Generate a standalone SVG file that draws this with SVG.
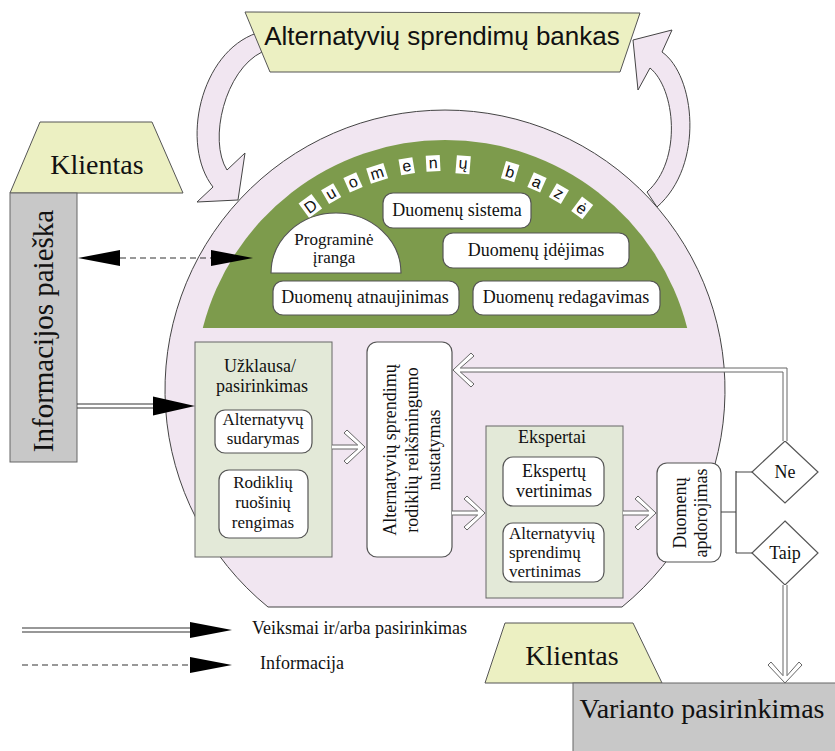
<svg xmlns="http://www.w3.org/2000/svg" width="835" height="751" viewBox="0 0 835 751">
<style>
.pink{fill:#f1e6f1;stroke:#444;stroke-width:1}
.green{fill:#7d9b4c;stroke:none}
.wbox{fill:#fff;stroke:#555;stroke-width:1.2}
.gbox{fill:#e3e9d8;stroke:#666;stroke-width:1}
.yel{fill:#ecf0c2;stroke:#555;stroke-width:1}
.gray{fill:#c8c8c8;stroke:#666;stroke-width:1}
.t{font-family:"Liberation Serif",serif;font-size:18px;fill:#111;text-anchor:middle}
.t.big{font-size:28px}
.t.sm{font-size:17px}
.s{font-family:"Liberation Sans",Arial,sans-serif;fill:#111;text-anchor:middle}
.lt{font-family:"Liberation Serif",serif;font-size:18px;fill:#111}
.lt.sm{font-size:17px}
.hollow{fill:#fff;stroke:#666;stroke-width:1}
.line{stroke:#333;stroke-width:1.2;fill:none}
.dash{stroke:#333;stroke-width:1.2;fill:none;stroke-dasharray:6 4}
.head{fill:#000}
.conn{stroke:#444;stroke-width:1.2;fill:none}
.lb{fill:#fff}
</style>
<defs>
<path id="ah" d="M-42,-8 L0,0 L-42,8 Z"/>
</defs>

<!-- curved arrows -->
<g id="curve-left">
<path class="pink" d="M257,33 C200,52 180,145 213,187 L197,202 L238,200 L245,153 L227,170 C208,140 225,70 262,52 Z"/>
</g>
<g id="curve-right">
<path class="pink" d="M633,40 L672,30 L662,52 C695,75 705,165 657,207 L647,192 C683,160 675,88 650,68 L638,90 Z"/>
</g>

<!-- banner -->
<g id="bank">
<polygon class="yel" points="245,12 640,13 620,72 270,72"/>
<text class="s" x="442" y="45" font-size="26">Alternatyvių sprendimų bankas</text>
</g>

<!-- big circle -->
<g id="circle">
<path class="pink" d="M268,607 A280 280 0 1 1 622,607 Z"/>
</g>

<!-- database -->
<g id="db">
<path class="green" d="M202.8,328 A250 250 0 0 1 687.2,328 Z"/>
<g class="s" font-size="16">
<g transform="rotate(-36.2 445 390)"><rect class="lb" x="437" y="153" width="16" height="18"/><text x="445" y="168">D</text></g>
<g transform="rotate(-30.1 445 390)"><rect class="lb" x="438" y="155" width="14" height="16"/><text x="445" y="168">u</text></g>
<g transform="rotate(-23.9 445 390)"><rect class="lb" x="438" y="155" width="14" height="16"/><text x="445" y="168">o</text></g>
<g transform="rotate(-17.4 445 390)"><rect class="lb" x="436" y="155" width="18" height="16"/><text x="445" y="168">m</text></g>
<g transform="rotate(-9.7 445 390)"><rect class="lb" x="438" y="155" width="14" height="16"/><text x="445" y="168">e</text></g>
<g transform="rotate(-3 445 390)"><rect class="lb" x="438" y="155" width="14" height="16"/><text x="445" y="168">n</text></g>
<g transform="rotate(4.6 445 390)"><rect class="lb" x="438" y="155" width="14" height="18"/><text x="445" y="168">ų</text></g>
<g transform="rotate(16.6 445 390)"><rect class="lb" x="438" y="153" width="14" height="18"/><text x="445" y="168">b</text></g>
<g transform="rotate(23.9 445 390)"><rect class="lb" x="438" y="155" width="14" height="16"/><text x="445" y="168">a</text></g>
<g transform="rotate(30.1 445 390)"><rect class="lb" x="438" y="155" width="14" height="16"/><text x="445" y="168">z</text></g>
<g transform="rotate(37 445 390)"><rect class="lb" x="438" y="153" width="14" height="18"/><text x="445" y="168">ė</text></g>
</g>
</g>

<g id="db-sistema">
<rect class="wbox" x="383" y="193" width="148" height="35" rx="10"/>
<text class="t" x="457" y="216">Duomenų sistema</text>
</g>
<g id="programine">
<path class="wbox" d="M271,273 A65 60 0 0 1 401,273 Z"/>
<text class="t sm" x="334" y="245">Programinė</text>
<text class="t sm" x="334" y="263">įranga</text>
</g>
<g id="idejimas">
<rect class="wbox" x="443" y="233" width="186" height="35" rx="10"/>
<text class="t" x="536" y="256">Duomenų įdėjimas</text>
</g>
<g id="atnaujinimas">
<rect class="wbox" x="273" y="281" width="186" height="34" rx="10"/>
<text class="t" x="365" y="303">Duomenų atnaujinimas</text>
</g>
<g id="redagavimas">
<rect class="wbox" x="473" y="281" width="187" height="34" rx="10"/>
<text class="t" x="566" y="303">Duomenų redagavimas</text>
</g>

<!-- left client -->
<g id="klientas-1">
<polygon class="yel" points="40,122 152,122 183,193 10,193"/>
<text class="t big" x="97" y="174">Klientas</text>
</g>
<g id="informacijos">
<rect class="gray" x="10" y="193" width="67" height="269"/>
<text class="t" style="font-size:29px" transform="rotate(-90 53 331)" x="53" y="331">Informacijos paieška</text>
</g>

<!-- Uzklausa -->
<g id="uzklausa">
<rect class="gbox" x="195" y="342" width="137" height="215"/>
<text class="t" x="260" y="372">Užklausa/</text>
<text class="t" x="262" y="392">pasirinkimas</text>
<rect class="wbox" x="215" y="410" width="97" height="43" rx="10"/>
<text class="t sm" x="263" y="425">Alternatyvų</text>
<text class="t sm" x="263" y="444">sudarymas</text>
<rect class="wbox" x="219" y="470" width="89" height="68" rx="10"/>
<text class="t sm" x="263" y="488">Rodiklių</text>
<text class="t sm" x="263" y="508">ruošinių</text>
<text class="t sm" x="263" y="528">rengimas</text>
</g>

<g id="reiksmingumas">
<rect class="wbox" x="367" y="342" width="85" height="215" rx="10"/>
<text class="t" transform="rotate(-90 396 450)" x="396" y="450">Alternatyvių sprendimų</text>
<text class="t" transform="rotate(-90 418 450)" x="418" y="450">rodiklių reikšmingumo</text>
<text class="t" transform="rotate(-90 440 450)" x="440" y="450">nustatymas</text>
</g>

<g id="ekspertai">
<rect class="gbox" x="486" y="426" width="137" height="172"/>
<text class="t" x="552" y="443">Ekspertai</text>
<rect class="wbox" x="503" y="457" width="101" height="49" rx="10"/>
<text class="t" x="554" y="477">Ekspertų</text>
<text class="t" x="554" y="497">vertinimas</text>
<rect class="wbox" x="503" y="523" width="101" height="59" rx="10"/>
<text class="lt sm" x="509" y="539">Alternatyvių</text>
<text class="lt sm" x="509" y="558">sprendimų</text>
<text class="lt sm" x="509" y="577">vertinimas</text>
</g>

<g id="apdorojimas">
<rect class="wbox" x="657" y="463" width="64" height="99" rx="10"/>
<text class="t" transform="rotate(-90 686 513)" x="686" y="513">Duomenų</text>
<text class="t" transform="rotate(-90 707 513)" x="707" y="513">apdorojimas</text>
</g>

<g id="ne">
<polygon class="wbox" points="785,441 818,472 785,503 752,472"/>
<text class="t" x="785" y="478">Ne</text>
</g>
<g id="taip">
<polygon class="wbox" points="785,521 818,553 785,585 752,553"/>
<text class="t" x="785" y="559">Taip</text>
</g>

<g id="klientas-2">
<polygon class="yel" points="505,623 633,623 662,683 485,683"/>
<text class="t big" x="572" y="665">Klientas</text>
</g>
<g id="variantas">
<rect class="gray" x="573" y="683" width="270" height="80"/>
<text class="t big" x="702" y="718">Varianto pasirinkimas</text>
</g>

<!-- connectors -->
<g id="connectors">
<line class="dash" x1="120" y1="258" x2="212" y2="258"/>
<use href="#ah" transform="translate(78,258) rotate(180)" class="head"/>
<use href="#ah" transform="translate(253,258)" class="head"/>

<line class="line" x1="77" y1="404" x2="160" y2="404"/>
<line class="line" x1="77" y1="408" x2="160" y2="408"/>
<use href="#ah" transform="translate(195,406) scale(1,1.2)" class="head"/>

<path class="hollow" transform="translate(365,447)" d="M-33,-2 L-7.3,-2 L-21,-14 L-18,-17 L0,0 L-18,17 L-21,14 L-7.3,2 L-33,2"/>
<path class="hollow" transform="translate(485,513)" d="M-33,-2 L-7.3,-2 L-21,-14 L-18,-17 L0,0 L-18,17 L-21,14 L-7.3,2 L-33,2"/>
<path class="hollow" transform="translate(656,513)" d="M-33,-2 L-7.3,-2 L-21,-14 L-18,-17 L0,0 L-18,17 L-21,14 L-7.3,2 L-33,2"/>
<path class="hollow" d="M783,441 L783,372 L460.3,372 L474,384 L471,387 L453,370 L471,353 L474,356 L460.3,368 L787,368 L787,441"/>
<path class="hollow" transform="translate(785,683) rotate(90)" d="M-98,-2 L-7.3,-2 L-21,-14 L-18,-17 L0,0 L-18,17 L-21,14 L-7.3,2 L-98,2"/>

<path class="conn" d="M721,512 L736,512 M736,471 L736,553 M736,472 L752,472 M736,553 L752,553"/>
</g>

<!-- legend -->
<g id="legend">
<line class="line" x1="22" y1="628" x2="195" y2="628"/>
<line class="line" x1="22" y1="632" x2="195" y2="632"/>
<use href="#ah" transform="translate(232,630)" class="head"/>
<text class="lt" x="252" y="634">Veiksmai ir/arba pasirinkimas</text>
<line class="dash" x1="22" y1="665" x2="195" y2="665"/>
<use href="#ah" transform="translate(232,665)" class="head"/>
<text class="lt" x="260" y="669">Informacija</text>
</g>
</svg>
